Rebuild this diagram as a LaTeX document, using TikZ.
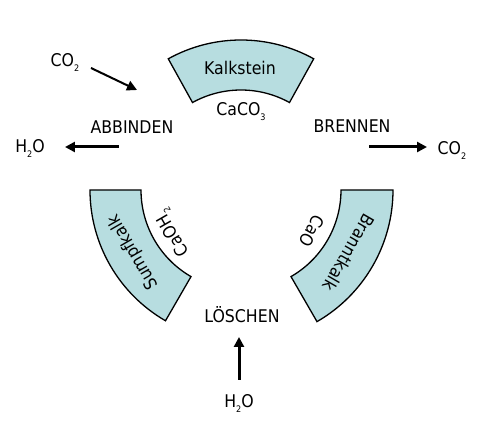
\documentclass[tikz,border=0pt]{standalone}
\usepackage{fontspec}
\setmainfont{DejaVu Sans Condensed}
\usetikzlibrary{arrows.meta}

\definecolor{kalkblau}{RGB}{183,221,224}
\newcommand{\tief}[1]{\raisebox{-5pt}{\fontsize{9}{9}\selectfont #1}}

\begin{document}
\begin{tikzpicture}[x=1pt,y=1pt,
  sektor/.style={fill=kalkblau,draw=black,line width=1.3pt,line join=miter},
  txt/.style={font=\fontsize{17.5}{20}\selectfont,inner sep=0pt},
  pfeil/.style={line width=3pt,-{Triangle[length=10pt,width=10pt]}}]
  \useasboundingbox (-241,-235) rectangle (257,190);
  % the three sectors of the ring
  \draw[sektor] (61:100) arc[start angle=61,end angle=119,radius=100]
    -- (119:150) arc[start angle=119,end angle=61,radius=150] -- cycle;
  \draw[sektor] (180:100) arc[start angle=180,end angle=240,radius=100]
    -- (240:151) arc[start angle=240,end angle=180,radius=151] -- cycle;
  \draw[sektor] (300:100) arc[start angle=300,end angle=360,radius=100]
    -- (360:152) arc[start angle=360,end angle=300,radius=152] -- cycle;
  % texts on the sectors
  \node[txt,anchor=base] (kalk) at (-1,115) {Kalkstein};
  \node[txt,anchor=base] (caco) at (0,74) {CaCO\tief{3}};
  \node[txt,rotate=120] (sumpf) at (210:124) {Sumpfkalk};
  \node[txt,rotate=120] (caoh) at (212:80) {CaOH\tief{2}};
  \node[txt,rotate=-120] (brannt) at (-30:125) {Branntkalk};
  \node[txt,rotate=-120] (cao) at (-30:82) {CaO};
  % steps
  \node[txt,anchor=base] (abb) at (-109,56) {ABBINDEN};
  \node[txt,anchor=base] (brenn) at (111,57) {BRENNEN};
  \node[txt,anchor=base] (loesch) at (1,-133) {LÖSCHEN};
  % substances
  \node[txt,anchor=base] (co2a) at (-176,123) {CO\tief{2}};
  \node[txt,anchor=base] (h2oa) at (-211,37) {H\tief{2}O};
  \node[txt,anchor=base] (co2b) at (211,35) {CO\tief{2}};
  \node[txt,anchor=base] (h2ob) at (-2,-218) {H\tief{2}O};
  % arrows
  \coordinate (a1) at (-150,122);
  \coordinate (a2) at (-104,100);
  \coordinate (b1) at (-122,43);
  \coordinate (b2) at (-176,43);
  \coordinate (c1) at (128,43);
  \coordinate (c2) at (186,43);
  \coordinate (d1) at (-2,-190);
  \coordinate (d2) at (-2,-147);
  \draw[pfeil,line width=2pt] (a1) -- (a2);
  \draw[pfeil] (b1) -- (b2);
  \draw[pfeil] (c1) -- (c2);
  \draw[pfeil] (d1) -- (d2);
\end{tikzpicture}
\end{document}
